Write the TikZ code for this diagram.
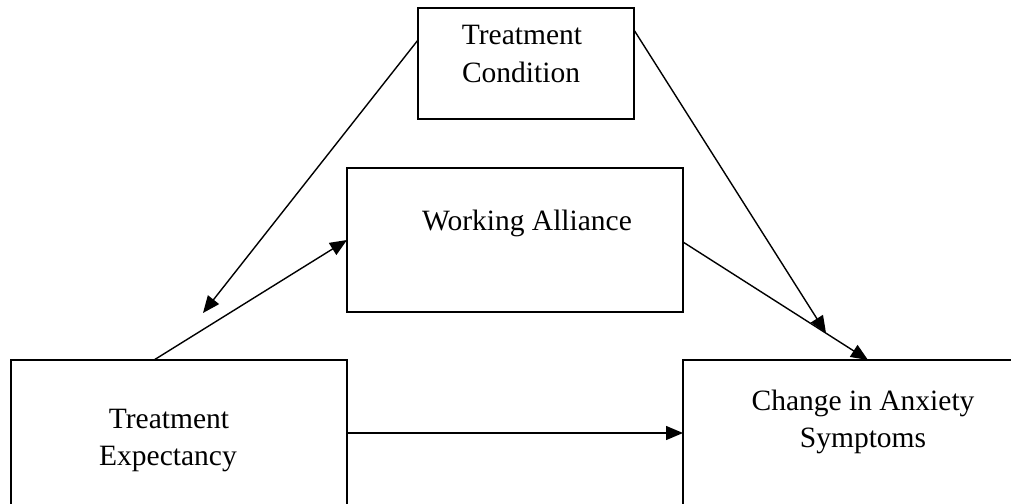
\documentclass[tikz,border=0pt]{standalone}
\usepackage{fontspec}
\setmainfont{Liberation Serif}
\usetikzlibrary{arrows.meta}
\begin{document}
\begin{tikzpicture}[x=1pt,y=-1pt,
  box/.style={draw, line width=2.8pt, inner sep=0pt, outer sep=0pt, anchor=north west},
  lbl/.style={font=\fontsize{29.5}{36}\selectfont, inner sep=0pt, anchor=base},
  conn/.style={line width=1.4pt, -{Triangle[length=17pt,width=14pt]}}]
\useasboundingbox (0,0) rectangle (1011,503);
\clip (0,0) rectangle (1011,503);
% boxes
\node[box, minimum width=216pt, minimum height=111pt] (tc) at (418,8) {};
\node[box, minimum width=336pt, minimum height=144pt] (wa) at (347,168) {};
\node[box, minimum width=336pt, minimum height=170pt] (te) at (11,360) {};
\node[box, minimum width=340pt, minimum height=170pt] (ca) at (683,360) {};
% labels
\node[lbl] (tc1) at (522,45) {Treatment};
\node[lbl] (tc2) at (521,82) {Condition};
\node[lbl] (wa1) at (527,230) {Working Alliance};
\node[lbl] (te1) at (169,428) {Treatment};
\node[lbl] (te2) at (168,465) {Expectancy};
\node[lbl] (ca1) at (863,410) {Change in Anxiety};
\node[lbl] (ca2) at (863,447) {Symptoms};
% connector end points on the boxes
\coordinate (tcL) at (tc.west |- 0,40);
\coordinate (tcR) at (tc.east |- 0,30);
\coordinate (teT) at (154,0 |- te.north);
\coordinate (teR) at (te.east |- 0,433);
\coordinate (waL) at (wa.west |- 0,240);
\coordinate (waR) at (wa.east |- 0,242);
\coordinate (caL) at (ca.west |- 0,433);
\coordinate (caT) at (868,0 |- ca.north);
\coordinate (e1) at (203,313);
\coordinate (e2) at (826,333);
% connectors
\draw[conn] (tcL) -- (e1);
\draw[conn] (teT) -- (waL);
\draw[conn] (tcR) -- (e2);
\draw[conn] (waR) -- (caT);
\draw[conn] (teR) -- (caL);
\end{tikzpicture}
\end{document}
